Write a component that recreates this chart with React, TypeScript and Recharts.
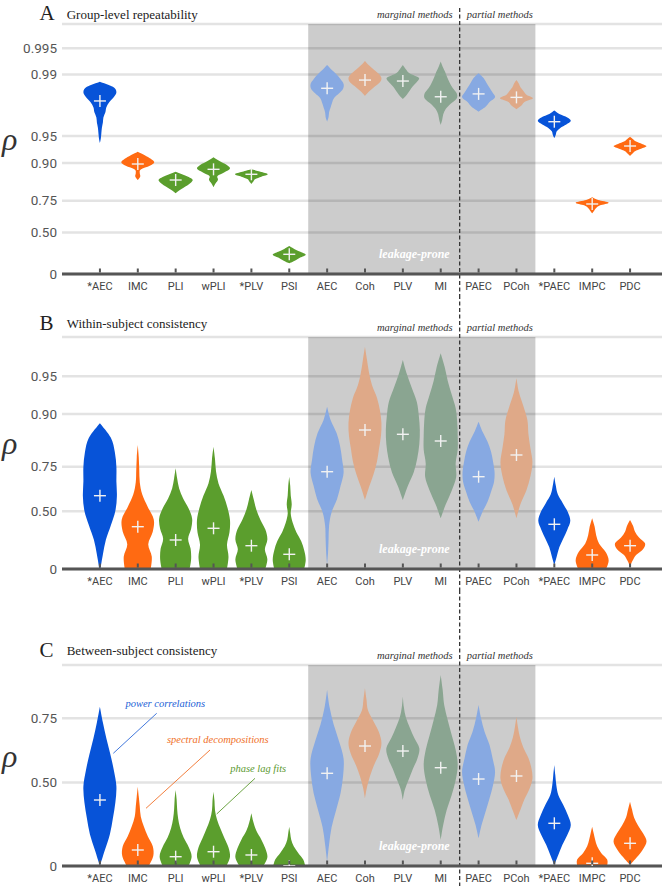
import React from 'react';
import {
  ComposedChart,
  Bar,
  Scatter,
  XAxis,
  YAxis,
  CartesianGrid,
  ReferenceArea,
  ReferenceLine,
} from 'recharts';

// ---------------- data ----------------
const methods = ['*AEC', 'IMC', 'PLI', 'wPLI', '*PLV', 'PSI', 'AEC', 'Coh', 'PLV', 'MI', 'PAEC', 'PCoh', '*PAEC', 'IMPC', 'PDC'];

// A: group-level repeatability (rho)
const groupLow = [0.9399, 0.8473, 0.7896, 0.8177, 0.8317, 0.141, 0.9654, 0.9824, 0.9809, 0.9623, 0.9734, 0.975, 0.9468, 0.6668, 0.9162];
const groupHigh = [0.9879, 0.9249, 0.8756, 0.9134, 0.8828, 0.3552, 0.9922, 0.993, 0.9922, 0.9929, 0.9903, 0.9884, 0.9741, 0.7687, 0.9489];
const groupMedian = [0.9799, 0.8974, 0.8473, 0.8828, 0.8674, 0.2555, 0.9856, 0.9884, 0.9881, 0.982, 0.9833, 0.9817, 0.9654, 0.7299, 0.9351];
// relative density, sampled evenly from low to high
const groupDensity = [
  [0, 2, 3, 4, 6, 7, 11, 13, 19, 28, 33, 26, 0],
  [0, 5, 4, 6, 24, 33, 26, 14, 0],
  [0, 7, 15, 24, 31, 34, 26, 14, 0],
  [0, 4, 9, 8, 22, 33, 26, 12, 0],
  [0, 4, 8, 20, 33, 18, 0],
  [0, 12, 22, 33, 22, 10, 0],
  [0, 3, 4, 7, 10, 14, 24, 32, 33, 27, 19, 9, 0],
  [0, 8, 18, 29, 33, 28, 18, 8, 0],
  [0, 8, 14, 20, 28, 32, 14, 6, 0],
  [0, 3, 5, 10, 20, 32, 32, 24, 18, 13, 9, 4, 0],
  [0, 14, 22, 33, 28, 22, 16, 10, 0],
  [0, 10, 16, 33, 20, 14, 8, 5, 0],
  [0, 3, 5, 12, 24, 33, 26, 10, 0],
  [0, 4, 8, 16, 33, 12, 0],
  [0, 5, 10, 22, 33, 24, 12, 6, 0],
];

// B: within-subject consistency
const withinLow = [0, 0, 0, 0, 0, 0, 0.038, 0.5757, 0.5757, 0.4478, 0.4216, 0.4478, 0.038, 0, 0.0219];
const withinHigh = [0.8821, 0.827, 0.7431, 0.8219, 0.6357, 0.7051, 0.9126, 0.9712, 0.9631, 0.9674, 0.8854, 0.9481, 0.7051, 0.4478, 0.4349];
const withinMedian = [0.6023, 0.3818, 0.269, 0.3687, 0.218, 0.1388, 0.7282, 0.8671, 0.8566, 0.8387, 0.7051, 0.7946, 0.4011, 0.1323, 0.218];
const withinDensity = [
  [1, 6, 12, 22, 31, 34, 33, 33, 30, 22, 0],
  [26, 28, 21, 30, 32, 20, 9, 4, 3, 2, 0],
  [28, 31, 30, 25, 31, 33, 26, 15, 7, 3, 0],
  [27, 30, 27, 32, 33, 28, 20, 10, 5, 3, 0],
  [28, 32, 27, 32, 28, 18, 10, 5, 0],
  [30, 33, 30, 24, 14, 7, 3, 5, 3, 2, 0],
  [0, 2, 3, 4, 9, 20, 27, 33, 30, 26, 19, 7, 0],
  [0, 8, 17, 24, 28, 32, 33, 30, 24, 14, 8, 4, 0],
  [0, 10, 22, 29, 33, 34, 32, 28, 18, 8, 0],
  [0, 10, 22, 31, 30, 34, 34, 33, 30, 22, 14, 8, 0],
  [0, 8, 18, 25, 31, 32, 29, 25, 18, 8, 0],
  [0, 8, 20, 28, 32, 28, 24, 22, 14, 5, 0],
  [0, 5, 10, 18, 26, 32, 27, 17, 7, 3, 0],
  [28, 33, 27, 14, 8, 5, 0],
  [0, 5, 12, 26, 30, 18, 10, 6, 0],
];

// C: between-subject consistency
const betweenLow = [0, 0, 0, 0, 0, 0, 0.0283, 0.4186, 0.4093, 0.1696, 0.1805, 0.2941, 0.0066, 0, 0.0066];
const betweenHigh = [0.7816, 0.4796, 0.4627, 0.4538, 0.3338, 0.2532, 0.8209, 0.8245, 0.8059, 0.8506, 0.7859, 0.7546, 0.5819, 0.2532, 0.4];
const betweenMedian = [0.4093, 0.105, 0.0612, 0.0939, 0.0724, 0, 0.5446, 0.6587, 0.6396, 0.5701, 0.5176, 0.532, 0.2741, 0.0178, 0.1484];
const betweenDensity = [
  [0, 10, 20, 26, 31, 33, 28, 21, 13, 6, 0],
  [22, 31, 30, 20, 12, 6, 4, 2, 0],
  [26, 32, 26, 16, 9, 5, 3, 2, 0],
  [26, 33, 30, 22, 14, 7, 3, 2, 0],
  [24, 32, 28, 20, 10, 4, 0],
  [32, 28, 18, 9, 4, 2, 0],
  [0, 4, 9, 18, 27, 32, 33, 24, 13, 5, 0],
  [0, 4, 10, 18, 28, 33, 28, 17, 6, 3, 0],
  [0, 4, 12, 20, 29, 33, 23, 14, 6, 2, 0],
  [0, 5, 12, 22, 30, 34, 30, 22, 14, 7, 4, 0],
  [0, 6, 14, 22, 29, 33, 28, 22, 12, 5, 0],
  [0, 8, 16, 26, 32, 30, 24, 14, 7, 3, 0],
  [0, 8, 16, 26, 33, 27, 18, 8, 4, 2, 0],
  [30, 30, 18, 10, 6, 3, 0],
  [0, 14, 26, 33, 26, 16, 8, 4, 0],
];

const groupTicks = [0, 0.5, 0.75, 0.9, 0.95, 0.99, 0.995];
const groupTickLabels = ['0', '0.50', '0.75', '0.90', '0.95', '0.99', '0.995'];
const withinTicks = [0, 0.5, 0.75, 0.9, 0.95];
const withinTickLabels = ['0', '0.50', '0.75', '0.90', '0.95'];
const betweenTicks = [0, 0.5, 0.75];
const betweenTickLabels = ['0', '0.50', '0.75'];

// ---------------- styles ----------------
const BLUE = '#0753d8';
const ORANGE = '#ff6a12';
const GREEN = '#5b9e2d';
const LBLUE = '#87a9e2';
const PEACH = '#dfa988';
const GGREEN = '#8aa591';
const methodColors = [BLUE, ORANGE, GREEN, GREEN, GREEN, GREEN, LBLUE, PEACH, GGREEN, GGREEN, LBLUE, PEACH, BLUE, ORANGE, ORANGE];

const SERIF = '"Liberation Serif", "DejaVu Serif", serif';
const SANS = 'Roboto, "Liberation Sans", sans-serif';

const fisher = (r: number) => 0.5 * Math.log((1 + r) / (1 - r));

const allDens = [...groupDensity, ...withinDensity, ...betweenDensity].flat();
const DMAX = Math.max(...allDens);

function buildRows(lo: number[], hi: number[], med: number[], dens: number[][]) {
  return methods.map((name, i) => ({
    name,
    color: methodColors[i],
    range: [fisher(lo[i]), fisher(hi[i])],
    medZ: fisher(med[i]),
    dens: dens[i],
  }));
}

const rowsA = buildRows(groupLow, groupHigh, groupMedian, groupDensity);
const rowsB = buildRows(withinLow, withinHigh, withinMedian, withinDensity);
const rowsC = buildRows(betweenLow, betweenHigh, betweenMedian, betweenDensity);

// ---------------- shapes ----------------
function sidePath(pts: number[][], cx: number, sign: number, move: boolean) {
  let d = `${move ? 'M' : 'L'}${pts[0][0].toFixed(2)},${pts[0][1].toFixed(2)}`;
  for (let i = 0; i < pts.length - 1; i++) {
    const p0 = pts[Math.max(i - 1, 0)];
    const p1 = pts[i];
    const p2 = pts[i + 1];
    const p3 = pts[Math.min(i + 2, pts.length - 1)];
    let c1x = p1[0] + (p2[0] - p0[0]) / 6;
    const c1y = p1[1] + (p2[1] - p0[1]) / 6;
    let c2x = p2[0] - (p3[0] - p1[0]) / 6;
    const c2y = p2[1] - (p3[1] - p1[1]) / 6;
    if (sign > 0) {
      c1x = Math.max(c1x, cx);
      c2x = Math.max(c2x, cx);
    } else {
      c1x = Math.min(c1x, cx);
      c2x = Math.min(c2x, cx);
    }
    d += ` C${c1x.toFixed(2)},${c1y.toFixed(2)} ${c2x.toFixed(2)},${c2y.toFixed(2)} ${p2[0].toFixed(2)},${p2[1].toFixed(2)}`;
  }
  return d;
}

const ViolinShape = (props: any) => {
  const { x, y, width, height } = props;
  const row = props.payload && props.payload.dens ? props.payload : props;
  if (!row || !row.dens || x == null || y == null) return null;
  const dens: number[] = row.dens;
  const top = Math.min(y, y + height);
  const bottom = Math.max(y, y + height);
  const n = dens.length;
  const cx = x + width / 2;
  const half = width / 2;
  const right = dens.map((d, k) => [cx + (d / DMAX) * half, bottom - ((bottom - top) * k) / (n - 1)]);
  const left = dens
    .map((d, k) => [cx - (d / DMAX) * half, bottom - ((bottom - top) * k) / (n - 1)])
    .reverse();
  const path = sidePath(right, cx, 1, true) + ' ' + sidePath(left, cx, -1, false) + ' Z';
  return <path d={path} fill={row.color} stroke="none" />;
};

const PlusShape = (props: any) => {
  const { cx, cy } = props;
  if (cx == null || cy == null) return null;
  const s = 6;
  return (
    <g stroke="#f2f2f2" strokeWidth={1.4}>
      <line x1={cx - s} x2={cx + s} y1={cy} y2={cy} />
      <line x1={cx} x2={cx} y1={cy - s} y2={cy + s} />
    </g>
  );
};

const XTick = (props: any) => {
  const { x, y, payload } = props;
  return (
    <g>
      <rect x={x - 1} y={y - 5.5} width={2} height={4} fill="#555" />
      <text x={x} y={y + 12.5} textAnchor="middle" dominantBaseline="central" fontSize={11} fontFamily={SANS} fill="#444">
        {payload.value}
      </text>
    </g>
  );
};

const makeDivider = (extTop: number, bottomY: number) => (p: any) => (
  <line
    x1={p.x1}
    x2={p.x2}
    y1={Math.min(p.y1, p.y2) - extTop}
    y2={bottomY}
    stroke="#333"
    strokeWidth={1.3}
    strokeDasharray="4 2.5"
  />
);

const dividerLabel = (props: any) => {
  const vb = props.viewBox || {};
  const x = vb.x;
  const top = vb.y;
  const bottom = vb.y + vb.height;
  return (
    <g>
      <text x={x - 7} y={top - 6} textAnchor="end" fontSize={10.5} fontStyle="italic" fontFamily={SERIF} fill="#333">
        marginal methods
      </text>
      <text x={x + 7} y={top - 6} textAnchor="start" fontSize={10.5} fontStyle="italic" fontFamily={SERIF} fill="#333">
        partial methods
      </text>
      <text x={x - 10} y={bottom - 16.5} textAnchor="end" fontSize={12} fontStyle="italic" fontWeight="bold" fontFamily={SERIF} fill="#fff">
        leakage-prone
      </text>
    </g>
  );
};

const rhoLabel = (props: any) => {
  const vb = props.viewBox || {};
  return (
    <text x={vb.x + 2} y={vb.y + vb.height / 2 + 1} fontSize={32} fontStyle="italic" fontFamily={SERIF} fill="#333">
      ρ
    </text>
  );
};

type PanelProps = {
  rows: any[];
  height: number;
  top: number;
  axisH: number;
  zTop: number;
  ticks: number[];
  tickLabels: string[];
  divTopExt: number;
  letter: string;
  title: string;
  titleY: number;
  children?: React.ReactNode;
};

function Panel({ rows, height, top, axisH, zTop, ticks, tickLabels, divTopExt, letter, title, titleY, children }: PanelProps) {
  const zTicks = ticks.map(fisher);
  const fmt = (z: number) => {
    let best = 0;
    zTicks.forEach((t, i) => {
      if (Math.abs(t - z) < Math.abs(zTicks[best] - z)) best = i;
    });
    return tickLabels[best];
  };
  return (
    <div style={{ position: 'relative', width: 664, height }}>
      <ComposedChart
        width={664}
        height={height}
        data={rows}
        margin={{ top, right: 2, bottom: 0, left: 0 }}
        barCategoryGap="5%"
      >
        <CartesianGrid vertical={false} stroke="#000" strokeOpacity={0.11} strokeWidth={2.5} />
        <ReferenceArea x1="AEC" x2="PCoh" fill="#000" fillOpacity={0.2} stroke="none" ifOverflow="visible" />
        <XAxis
          dataKey="name"
          type="category"
          height={axisH}
          interval={0}
          padding={{ left: 19, right: 13 }}
          axisLine={{ stroke: '#555', strokeWidth: 3 }}
          tickLine={false}
          tickSize={0}
          tickMargin={0}
          tick={<XTick />}
        />
        <YAxis
          type="number"
          domain={[0, zTop]}
          allowDataOverflow
          ticks={zTicks}
          tickFormatter={fmt}
          width={62}
          axisLine={false}
          tickLine={false}
          tickSize={0}
          tickMargin={5}
          tick={{ fill: '#555', fontSize: 13.5, fontFamily: SANS }}
          label={rhoLabel}
        />
        <Bar dataKey="range" shape={ViolinShape} isAnimationActive={false} />
        <Scatter dataKey="medZ" shape={PlusShape} isAnimationActive={false} />
        <ReferenceLine
          x="PAEC"
          position="start"
          stroke="#333"
          shape={makeDivider(divTopExt, height)}
          label={dividerLabel}
          ifOverflow="visible"
        />
      </ComposedChart>
      <svg
        width={664}
        height={height}
        style={{ position: 'absolute', left: 0, top: 0, pointerEvents: 'none' }}
      >
        <text x={39.5} y={titleY + 1.5} fontSize={21} fontFamily={SERIF} fill="#222">
          {letter}
        </text>
        <text x={66.7} y={titleY} fontSize={13} fontFamily={SERIF} fill="#222">
          {title}
        </text>
        {children}
      </svg>
    </div>
  );
}

export default function App() {
  return (
    <div style={{ position: 'absolute', left: 0, top: 0, width: 664, height: 886, background: '#fff' }}>
      <Panel
        rows={rowsA}
        height={295}
        top={24}
        axisH={21}
        zTop={3.3157}
        ticks={groupTicks}
        tickLabels={groupTickLabels}
        divTopExt={16}
        letter="A"
        title="Group-level repeatability"
        titleY={18.5}
      />
      <Panel
        rows={rowsB}
        height={295}
        top={42}
        axisH={21}
        zTop={2.2053}
        ticks={withinTicks}
        tickLabels={withinTickLabels}
        divTopExt={42}
        letter="B"
        title="Within-subject consistency"
        titleY={33}
      />
      <Panel
        rows={rowsC}
        height={296}
        top={75}
        axisH={20}
        zTop={1.3241}
        ticks={betweenTicks}
        tickLabels={betweenTickLabels}
        divTopExt={75}
        letter="C"
        title="Between-subject consistency"
        titleY={65}
      >
        <g fontFamily={SERIF} fontStyle="italic" fontSize={10.5}>
          <text x={165.3} y={117.3} textAnchor="middle" fill="#1c5fd6">power correlations</text>
          <line x1={156.7} y1={123.3} x2={113.3} y2={163.3} stroke="#2e6ad8" strokeWidth={0.9} />
          <text x={217.8} y={153.3} textAnchor="middle" fill="#f07028">spectral decompositions</text>
          <line x1={210} y1={160} x2={146} y2={218.3} stroke="#f07028" strokeWidth={0.9} />
          <text x={258.2} y={181.7} textAnchor="middle" fill="#5c9a30">phase lag fits</text>
          <line x1={255} y1={188.3} x2={216.7} y2={224} stroke="#5c9a30" strokeWidth={0.9} />
        </g>
      </Panel>
    </div>
  );
}
